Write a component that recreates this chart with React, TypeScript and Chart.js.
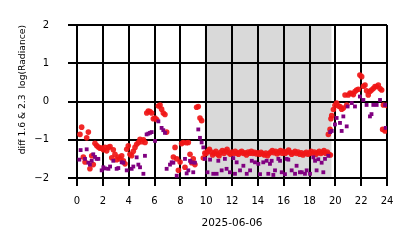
import React, { useEffect, useRef } from 'react';
import { Chart, registerables } from 'chart.js';

Chart.register(...registerables);

// Hours of day (x) and diff values (y) — 1.6 band (red)
const redHours = [
  0.23, 0.36, 0.49, 0.62, 0.75, 0.88, 1.0, 1.14, 1.26, 1.39, 1.52, 1.65, 1.78, 1.91, 2.04, 2.17, 2.3, 2.43, 2.56, 2.69,
  2.81, 2.94, 3.07, 3.2, 3.33, 3.46, 3.59, 3.72, 3.85, 3.97, 4.1, 4.23, 4.36, 4.49, 4.62, 4.75, 4.88, 5.01, 5.14, 5.27,
  5.4, 5.52, 5.65, 5.78, 5.91, 6.04, 6.17, 6.3, 6.43, 6.55, 6.68, 6.81, 6.94,
  7.46, 7.59, 7.72, 7.85, 7.98, 8.1, 8.23, 8.36, 8.49, 8.62, 8.75, 8.88, 9.0, 9.13, 9.26, 9.39, 9.52, 9.65, 9.78, 9.9,
  10.0, 10.12, 10.25, 10.38, 10.5, 10.62, 10.75, 10.88, 11.0, 11.12, 11.25, 11.38, 11.5, 11.62, 11.75, 11.88,
  12.0, 12.12, 12.25, 12.38, 12.5, 12.62, 12.75, 12.88, 13.0, 13.12, 13.25, 13.38, 13.5, 13.62, 13.75, 13.88,
  14.0, 14.12, 14.25, 14.38, 14.5, 14.62, 14.75, 14.88, 15.0, 15.12, 15.25, 15.38, 15.5, 15.62, 15.75, 15.88,
  16.0, 16.12, 16.25, 16.38, 16.5, 16.62, 16.75, 16.88, 17.0, 17.12, 17.25, 17.38, 17.5, 17.62, 17.75, 17.88,
  18.0, 18.12, 18.25, 18.38, 18.5, 18.62, 18.75, 18.88, 19.0, 19.12, 19.25, 19.38, 19.5, 19.62,
  19.46, 19.59, 19.66, 19.72, 19.85, 19.97, 20.1, 20.23, 20.36, 20.49, 20.62, 20.75, 20.88, 21.0, 21.14, 21.27, 21.4,
  21.52, 21.65, 21.78, 21.9, 22.04, 22.17, 22.3, 22.42, 22.55, 22.68, 22.8, 22.94, 23.07, 23.2, 23.33, 23.46, 23.59,
  23.66, 23.72, 23.85, 23.98,
];
const redValues = [
  -0.86, -0.67, -1.45, -1.58, -0.95, -0.8, -1.76, -1.42, -1.65, -1.09, -1.15, -1.19, -1.22, -1.22, -1.26, -1.2, -1.29, -1.2, -1.18, -1.47,
  -1.26, -1.38, -1.52, -1.45, -1.5, -1.42, -1.55, -1.63, -1.25, -1.16, -1.38, -1.42, -1.3, -1.2, -1.12, -1.07, -0.99, -1.05, -1.0, -1.07,
  -0.3, -0.25, -0.26, -0.3, -0.45, -0.43, -0.47, -0.12, -0.09, -0.2, -0.3, -0.34, -0.8,
  -1.45, -1.2, -1.5, -1.8, -1.58, -1.1, -1.07, -1.72, -1.08, -1.07, -1.38, -1.6, -1.5, -1.65, -0.15, -0.13, -0.43, -0.5, -1.48, -1.35,
  -1.36, -1.3, -1.25, -1.32, -1.4, -1.35, -1.3, -1.38, -1.42, -1.33, -1.28, -1.36, -1.3, -1.25, -1.34, -1.38,
  -1.32, -1.36, -1.3, -1.35, -1.38, -1.33, -1.3, -1.36, -1.34, -1.4, -1.32, -1.35, -1.3, -1.36, -1.33, -1.37,
  -1.34, -1.38, -1.33, -1.37, -1.4, -1.35, -1.42, -1.36, -1.32, -1.28, -1.34, -1.3, -1.37, -1.33, -1.28, -1.35,
  -1.3, -1.36, -1.32, -1.27, -1.33, -1.38, -1.34, -1.3, -1.36, -1.32, -1.38, -1.34, -1.4, -1.36, -1.33, -1.38,
  -1.35, -1.3, -1.36, -1.32, -1.38, -1.34, -1.3, -1.36, -1.33, -1.28, -1.35, -1.32, -1.38, -1.4,
  -0.86, -0.73, -0.45, -0.37, -0.21, -0.1, -0.04, -0.12, -0.13, -0.2, -0.17, 0.17, -0.09, 0.17, 0.22, 0.21, 0.18,
  0.26, 0.3, 0.32, 0.69, 0.65, 0.4, 0.43, 0.28, 0.17, 0.26, 0.3, 0.34, 0.39, 0.39, 0.43, 0.34, 0.3,
  -0.73, -0.09, -0.77, -0.1,
];

// 2.3 band (purple)
const purpleHours = [
  0.18, 0.28, 0.62, 0.75, 0.88, 1.0, 1.14, 1.26, 1.39, 1.52, 1.65, 1.91, 2.04, 2.17, 2.43, 2.56, 2.81, 3.07, 3.2, 3.46,
  3.59, 3.85, 4.23, 4.36, 4.62, 4.75, 4.88, 5.14, 5.26, 5.39, 5.52, 5.65, 5.78, 6.04, 6.3, 6.55, 6.68, 6.81, 6.94, 7.2,
  7.33, 7.46, 7.72, 8.36, 8.49, 8.62, 8.75, 8.88, 9.0, 9.13, 9.39, 9.52, 9.65, 9.78, 9.9,
  10.1, 10.3, 10.55, 10.81, 10.94, 11.2, 11.45, 11.58, 11.84, 12.1, 12.23, 12.36, 12.62, 12.88, 13.14, 13.4, 13.53,
  13.78, 14.04, 14.17, 14.42, 14.68, 14.81, 14.94, 15.07, 15.2, 15.33, 15.59, 15.72, 15.85, 16.1, 16.23, 16.36, 16.62,
  16.88, 17.0, 17.26, 17.4, 17.65, 17.78, 18.04, 18.3, 18.43, 18.55, 18.68, 18.94, 19.07, 19.2, 19.46,
  19.6, 19.72, 19.97, 20.1, 20.36, 20.49, 20.62, 20.88, 20.95, 21.27, 21.52, 21.9, 22.17, 22.42, 22.68, 22.8, 22.94,
  23.2, 23.46, 23.85, 23.9,
];
const purpleValues = [
  -1.52, -1.27, -1.5, -1.25, -1.6, -1.65, -1.55, -1.38, -1.45, -1.5, -1.5, -1.8, -1.72, -1.75, -1.76, -1.7, -1.55, -1.76, -1.74, -1.59,
  -1.6, -1.8, -1.76, -1.7, -1.46, -1.65, -1.72, -1.89, -1.42, -0.86, -0.84, -0.82, -0.8, -1.03, -0.52, -0.69, -0.75, -0.82, -1.76, -1.65,
  -1.59, -1.6, -1.94, -1.5, -1.88, -1.8, -1.55, -1.59, -1.85, -1.6, -0.73, -0.95, -1.07, -1.2, -1.5,
  -1.85, -1.52, -1.89, -1.89, -1.55, -1.8, -1.5, -1.76, -1.85, -1.48, -1.89, -1.59, -1.8, -1.68, -1.89, -1.8, -1.55,
  -1.59, -1.63, -1.9, -1.59, -1.55, -1.89, -1.63, -1.55, -1.92, -1.8, -1.5, -1.55, -1.85, -1.9, -1.5, -1.52, -1.8,
  -1.89, -1.68, -1.85, -1.85, -1.89, -1.8, -1.89, -1.46, -1.55, -1.8, -1.51, -1.6, -1.85, -1.5, -1.42,
  -0.8, -0.77, -0.6, -0.43, -0.56, -0.77, -0.39, -0.65, -0.13, -0.04, -0.13, 0.13, 0.04, -0.09, -0.39, -0.33, -0.09,
  -0.09, 0.04, -0.09, -0.69,
];

const xTicks = [0, 2, 4, 6, 8, 10, 12, 14, 16, 18, 20, 22, 24];
const xTickLabels = ['0', '2', '4', '6', '8', '10', '12', '14', '16', '18', '20', '22', '24'];
const yTicks = [-2, -1, 0, 1, 2];
const yTickLabels = ['\u22122', '\u22121', '0', '1', '2'];
const shadeStart = 9.9;
const shadeEnd = 19.7;
const xTitle = '2025-06-06';
const yTitle = 'diff 1.6 & 2.3  log(Radiance)';

const FONT = 'DejaVu Sans';

export default function App() {
  const ref = useRef<HTMLCanvasElement | null>(null);

  useEffect(() => {
    document.body.style.margin = '0';
    const canvas = ref.current;
    if (!canvas) return;

    const shadePlugin = {
      id: 'shade',
      beforeDraw(chart: any) {
        const { ctx, chartArea, scales } = chart;
        ctx.save();
        ctx.fillStyle = '#ffffff';
        ctx.fillRect(0, 0, chart.width, chart.height);
        const x0 = scales.x.getPixelForValue(shadeStart);
        const x1 = scales.x.getPixelForValue(shadeEnd);
        ctx.fillStyle = 'rgb(217,217,217)';
        ctx.fillRect(x0, chartArea.top, x1 - x0, chartArea.bottom - chartArea.top);
        ctx.restore();
      },
    };

    const chart = new Chart(canvas, {
      type: 'scatter',
      data: {
        datasets: [
          {
            label: '2.3',
            data: purpleHours.map((h, i) => ({ x: h, y: purpleValues[i] })),
            pointStyle: 'rect',
            pointRadius: 2.7,
            backgroundColor: '#800080',
            borderWidth: 0,
          },
          {
            label: '1.6',
            data: redHours.map((h, i) => ({ x: h, y: redValues[i] })),
            pointStyle: 'circle',
            pointRadius: 2.8,
            backgroundColor: 'rgba(240,22,22,0.92)',
            borderWidth: 0,
          },
        ],
      },
      options: {
        responsive: false,
        animation: false,
        devicePixelRatio: 1,
        events: [],
        layout: { padding: { top: 22, right: 27, left: 0, bottom: 0 } },
        plugins: { legend: { display: false }, tooltip: { enabled: false } },
        scales: {
          x: {
            type: 'linear',
            min: 0,
            max: 24,
            afterBuildTicks: (scale: any) => {
              scale.ticks = xTicks.map((v) => ({ value: v }));
            },
            afterFit: (scale: any) => {
              scale.height = 70;
            },
            ticks: {
              callback: (v: any) => xTickLabels[xTicks.indexOf(Number(v))] ?? '',
              font: { family: FONT, size: 10 },
              color: '#000',
              padding: 9,
              maxRotation: 0,
              autoSkip: false,
            },
            grid: { color: '#000', lineWidth: 2, tickLength: 8, tickWidth: 2, tickColor: '#000' },
            border: { display: true, color: '#000', width: 2 },
            title: {
              display: true,
              text: xTitle,
              color: '#000',
              font: { family: FONT, size: 10.5 },
              padding: { top: 0, bottom: 18 },
            },
          },
          y: {
            type: 'linear',
            min: -2,
            max: 2,
            afterBuildTicks: (scale: any) => {
              scale.ticks = yTicks.map((v) => ({ value: v }));
            },
            afterFit: (scale: any) => {
              scale.width = 77;
            },
            ticks: {
              callback: (v: any) => yTickLabels[yTicks.indexOf(Number(v))] ?? '',
              font: { family: FONT, size: 10 },
              color: '#000',
              padding: 19,
              autoSkip: false,
            },
            grid: { color: '#000', lineWidth: 2, tickLength: 9, tickWidth: 2, tickColor: '#000' },
            border: { display: true, color: '#000', width: 2 },
            title: {
              display: true,
              text: yTitle,
              color: '#000',
              align: 'end',
              font: { family: FONT, size: 9.2 },
              padding: { top: 17, bottom: 0 },
            },
          },
        },
      },
      plugins: [shadePlugin],
    } as any);

    return () => chart.destroy();
  }, []);

  return <canvas ref={ref} width={414} height={248} style={{ display: 'block' }} />;
}
